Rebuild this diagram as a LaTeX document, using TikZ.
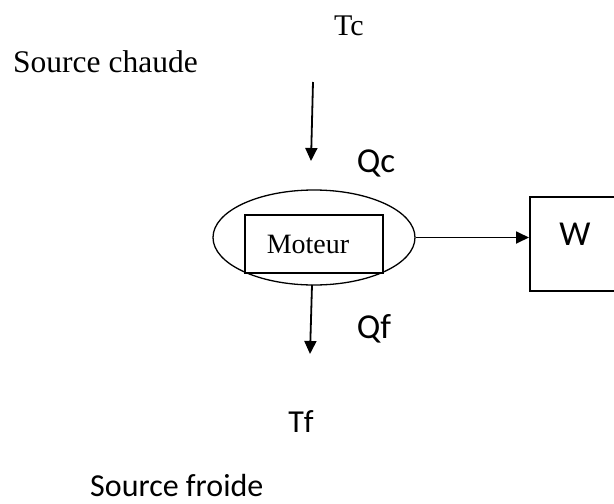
\documentclass[tikz,border=0pt]{standalone}
\usepackage{fontspec}
\setmainfont{Liberation Serif}
\newfontfamily\calib{Carlito}
\usetikzlibrary{shapes.geometric,arrows.meta}
\tikzset{
  serifbig/.style={font=\fontsize{30}{34}\selectfont, inner sep=0pt},
  sanstxt/.style={font=\calib\fontsize{32}{36}\selectfont, inner sep=0pt},
  sansbig/.style={font=\calib\fontsize{35}{40}\selectfont, inner sep=0pt},
  flow/.style={line width=1.8pt, -{Triangle[length=13pt,width=12pt]}},
  thinline/.style={draw, line width=1.3pt},
}
\begin{document}
\begin{tikzpicture}[x=1pt,y=-1pt]
\useasboundingbox (0,0) rectangle (614,504);
\clip (0,0) rectangle (614,504);
\fill[white] (0,0) rectangle (614,504);
% texts
\node[serifbig, anchor=base] (tc) at (349,35) {Tc};
\node[serifbig, font=\fontsize{31.5}{35}\selectfont, anchor=base west] (chaude) at (13,72) {Source chaude};
\node[sansbig, anchor=base] (qc) at (376,172) {Qc};
\node[sansbig, anchor=base] (qf) at (374,338) {Qf};
\node[sanstxt, anchor=base] (tf) at (301,432) {Tf};
\node[sanstxt, anchor=base west] (froide) at (90,496) {Source froide};
% engine
\node[thinline, ellipse, minimum width=202pt, minimum height=95pt, inner sep=0pt] (ell) at (314,237.5) {};
\node[thinline, fill=white, minimum width=138pt, minimum height=58pt, inner sep=0pt] (mot) at (314,244) {};
\node[font=\fontsize{28}{32}\selectfont, inner sep=0pt, anchor=base] (motl) at (308,253) {Moteur};
% work box
\node[draw, line width=1.8pt, minimum width=96pt, minimum height=94pt, inner sep=0pt, anchor=west] (w) at (529,244) {};
\node[sansbig, anchor=base] (wl) at (575,245) {W};
% arrows
\coordinate (a1) at (313,82);
\coordinate (a2) at (311,161);
\coordinate (b1) at (312,285);
\coordinate (b2) at (310,354);
\draw[flow] (a1) -- (a2);
\draw[flow] (b1) -- (b2);
\draw[flow] (ell.east) -- (w.west |- ell.east);
\end{tikzpicture}
\end{document}
